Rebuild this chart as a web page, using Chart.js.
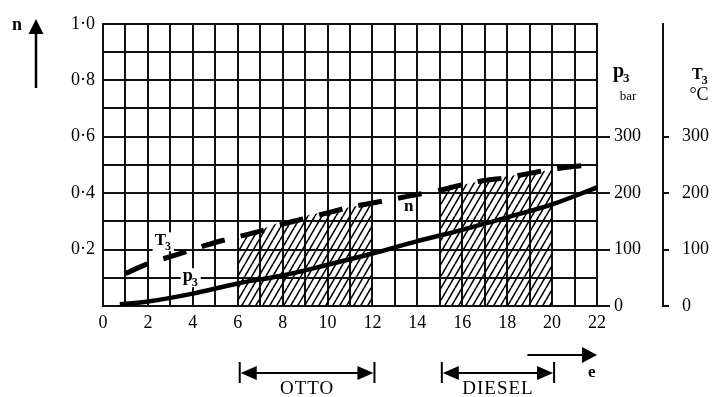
<!DOCTYPE html>
<html><head><meta charset="utf-8">
<script src="https://cdn.jsdelivr.net/npm/chart.js@4/dist/chart.umd.min.js"></script>
<style>html,body{margin:0;padding:0;background:#fff}canvas{display:block}</style>
</head><body>
<canvas id="c" width="713" height="397"></canvas>
<script>
// ---- data ----
// dashed curve (n / T3), left axis 0..1
const nE   = [1, 2, 3, 4, 5, 6, 7, 8, 9, 10, 11, 12, 13, 14, 15, 16, 17, 18, 19, 20, 21, 21.3];
const nVal = [0.115, 0.15, 0.175, 0.2, 0.225, 0.245, 0.265, 0.29, 0.31, 0.33, 0.35, 0.365, 0.38, 0.395, 0.41, 0.43, 0.445, 0.455, 0.47, 0.485, 0.495, 0.497];
// solid curve p3 (bar), right axis
const p3E   = [0.75, 2, 4, 6, 8, 10, 12, 14, 16, 18, 20, 22];
const p3Val = [3, 8, 22, 40, 54, 73, 93, 115, 135, 157, 180, 210];
// hatched regions (top edge, left axis units)
const ottoE     = [6, 7, 8, 9, 10, 11, 12];
const ottoTop   = [0.235, 0.27, 0.3, 0.32, 0.335, 0.35, 0.365];
const dieselE   = [15, 16, 17, 18, 19, 20];
const dieselTop = [0.405, 0.43, 0.445, 0.46, 0.47, 0.483];
// tick labels
const leftTickVals   = [0.2, 0.4, 0.6, 0.8, 1.0];
const leftTickLabels = ['0·2', '0·4', '0·6', '0·8', '1·0'];
const rightTickVals  = [0, 100, 200, 300];
const ranges = [{label: 'OTTO', from: 6, to: 12}, {label: 'DIESEL', from: 15, to: 20}];

const FONT = "'Liberation Serif', 'Times New Roman', serif";
Chart.defaults.font.family = FONT;
Chart.defaults.color = '#000';

const ctxMain = document.getElementById('c').getContext('2d');
function hatch() {
  const w = 7, h = 12;
  const c = document.createElement('canvas'); c.width = w; c.height = h;
  const g = c.getContext('2d');
  g.strokeStyle = '#000'; g.lineWidth = 1.6;
  g.beginPath();
  for (const k of [-w, 0, w]) { g.moveTo(k, h); g.lineTo(k + w, 0); }
  g.stroke();
  return ctxMain.createPattern(c, 'repeat');
}
const pat = hatch();
const pts = (xs, ys) => xs.map((v, i) => ({x: v, y: ys[i]}));

function sub(ctx, main, s, x, y, fm, fs, bg) {
  ctx.font = fm; const w1 = ctx.measureText(main).width;
  ctx.font = fs; const w2 = ctx.measureText(s).width;
  if (bg) { ctx.fillStyle = '#fff'; ctx.fillRect(x - 2, y - 13, w1 + w2 + 4, 19); }
  ctx.fillStyle = '#000';
  ctx.font = fm; ctx.fillText(main, x, y);
  ctx.font = fs; ctx.fillText(s, x + w1 - 1, y + 5);
}
function tri(ctx, tx, ty, dir, len, hh) {
  ctx.beginPath(); ctx.moveTo(tx, ty); ctx.lineTo(tx - dir * len, ty - hh); ctx.lineTo(tx - dir * len, ty + hh); ctx.closePath(); ctx.fill();
}

const annot = {
  id: 'annot',
  afterDraw(chart) {
    const {ctx, scales: {x, y, p3, t3}} = chart;
    ctx.save();
    ctx.fillStyle = '#000'; ctx.strokeStyle = '#000'; ctx.textBaseline = 'alphabetic'; ctx.textAlign = 'left';
    // n with up arrow
    ctx.font = 'bold 18px ' + FONT; ctx.fillText('n', 12, 30);
    ctx.lineWidth = 2.5; ctx.beginPath(); ctx.moveTo(36, 88); ctx.lineTo(36, 30); ctx.stroke();
    ctx.beginPath(); ctx.moveTo(36, 19); ctx.lineTo(28.5, 34); ctx.lineTo(43.5, 34); ctx.closePath(); ctx.fill();
    // axis titles
    sub(ctx, 'p', '3', p3.left + 16, 77, 'bold 20px ' + FONT, 'bold 13px ' + FONT);
    ctx.font = '13px ' + FONT; ctx.textAlign = 'center'; ctx.fillText('bar', p3.left + 31, 100);
    ctx.textAlign = 'left';
    sub(ctx, 'T', '3', t3.left + 29, 79, 'bold 16px ' + FONT, 'bold 12px ' + FONT);
    ctx.font = '18px ' + FONT; ctx.textAlign = 'center'; ctx.fillText('°C', t3.left + 36, 100);
    ctx.textAlign = 'left';
    // in-chart labels
    sub(ctx, 'T', '3', x.getPixelForValue(2.3), y.getPixelForValue(0.215), 'bold 17px ' + FONT, 'bold 12px ' + FONT, true);
    sub(ctx, 'p', '3', x.getPixelForValue(3.55), y.getPixelForValue(0.088), 'bold 18px ' + FONT, 'bold 12px ' + FONT, true);
    ctx.font = 'bold 17px ' + FONT;
    const nx = x.getPixelForValue(13.4), ny = y.getPixelForValue(0.335);
    ctx.fillStyle = '#fff'; ctx.fillRect(nx - 2, ny - 9, 13, 11);
    ctx.fillStyle = '#000'; ctx.fillText('n', nx, ny);
    // range arrows
    ctx.lineWidth = 2;
    for (const r of ranges) {
      const a = x.getPixelForValue(r.from) + 2, b = x.getPixelForValue(r.to) + 2, ly = 373;
      ctx.beginPath(); ctx.moveTo(a, 362); ctx.lineTo(a, 383); ctx.moveTo(b, 362); ctx.lineTo(b, 383);
      ctx.moveTo(a + 10, ly); ctx.lineTo(b - 10, ly); ctx.stroke();
      tri(ctx, a + 1, ly, -1, 16, 7); tri(ctx, b - 1, ly, 1, 16, 7);
      ctx.font = '19px ' + FONT; ctx.textAlign = 'center';
      ctx.letterSpacing = '1px';
      ctx.fillText(r.label, (a + b) / 2, 394);
      ctx.letterSpacing = '0px';
    }
    // e arrow
    ctx.beginPath(); ctx.moveTo(x.getPixelForValue(18.9), 355); ctx.lineTo(x.getPixelForValue(21.4), 355); ctx.stroke();
    tri(ctx, x.getPixelForValue(22), 355, 1, 15, 8);
    ctx.textAlign = 'left'; ctx.font = 'bold 17px ' + FONT; ctx.fillText('e', x.getPixelForValue(21.6), 377);
    ctx.restore();
  }
};

const gridBase = {color: '#111', lineWidth: 2};
new Chart(ctxMain, {
  type: 'line',
  data: {
    datasets: [
      {data: pts(nE, nVal), yAxisID: 'y', borderColor: '#000', borderWidth: 5, borderDash: [24, 16.5], pointRadius: 0, tension: 0.3, fill: false, order: 0},
      {data: pts(p3E, p3Val), yAxisID: 'p3', borderColor: '#000', borderWidth: 4.5, pointRadius: 0, cubicInterpolationMode: 'monotone', fill: false, order: 0},
      {data: pts(ottoE, ottoTop), yAxisID: 'y', borderWidth: 0, borderColor: 'rgba(0,0,0,0)', pointRadius: 0, backgroundColor: pat, fill: 'origin', order: 1},
      {data: pts(dieselE, dieselTop), yAxisID: 'y', borderWidth: 0, borderColor: 'rgba(0,0,0,0)', pointRadius: 0, backgroundColor: pat, fill: 'origin', order: 1}
    ]
  },
  options: {
    responsive: false, animation: false, devicePixelRatio: 1,
    layout: {padding: {top: 13, bottom: 66, left: 0, right: 0}},
    plugins: {legend: {display: false}, tooltip: {enabled: false}},
    scales: {
      x: {
        type: 'linear', min: 0, max: 22,
        afterFit(s) { s.height = 25; },
        ticks: {stepSize: 1, autoSkip: false, maxRotation: 0, padding: 6, font: {size: 18}, callback: v => (v % 2 === 0 ? String(v) : '')},
        grid: {...gridBase, drawTicks: false},
        border: {display: true, color: '#111', width: 2}
      },
      y: {
        position: 'left', min: 0, max: 1,
        afterFit(s) { s.width = 103; },
        ticks: {stepSize: 0.1, padding: 8, font: {size: 18}, callback: v => { const i = leftTickVals.findIndex(t => Math.abs(t - v) < 1e-6); return i >= 0 ? leftTickLabels[i] : ''; }},
        grid: {...gridBase, drawTicks: false},
        border: {display: true, color: '#111', width: 2}
      },
      p3: {
        position: 'right', min: 0, max: 500, weight: 0,
        afterFit(s) { s.width = 66; },
        afterBuildTicks(s) { s.ticks = rightTickVals.map(v => ({value: v})); },
        ticks: {padding: 4, font: {size: 18}},
        grid: {drawOnChartArea: false, drawTicks: true, tickLength: 13, color: '#111', lineWidth: 2},
        border: {display: true, color: '#111', width: 2}
      },
      t3: {
        position: 'right', min: 0, max: 500, weight: 1,
        afterFit(s) { s.width = 50; },
        afterBuildTicks(s) { s.ticks = rightTickVals.map(v => ({value: v})); },
        ticks: {padding: 13, font: {size: 18}},
        grid: {drawOnChartArea: false, drawTicks: true, tickLength: 6, color: '#111', lineWidth: 2},
        border: {display: true, color: '#111', width: 2}
      }
    }
  },
  plugins: [annot]
});
</script>
</body></html>
